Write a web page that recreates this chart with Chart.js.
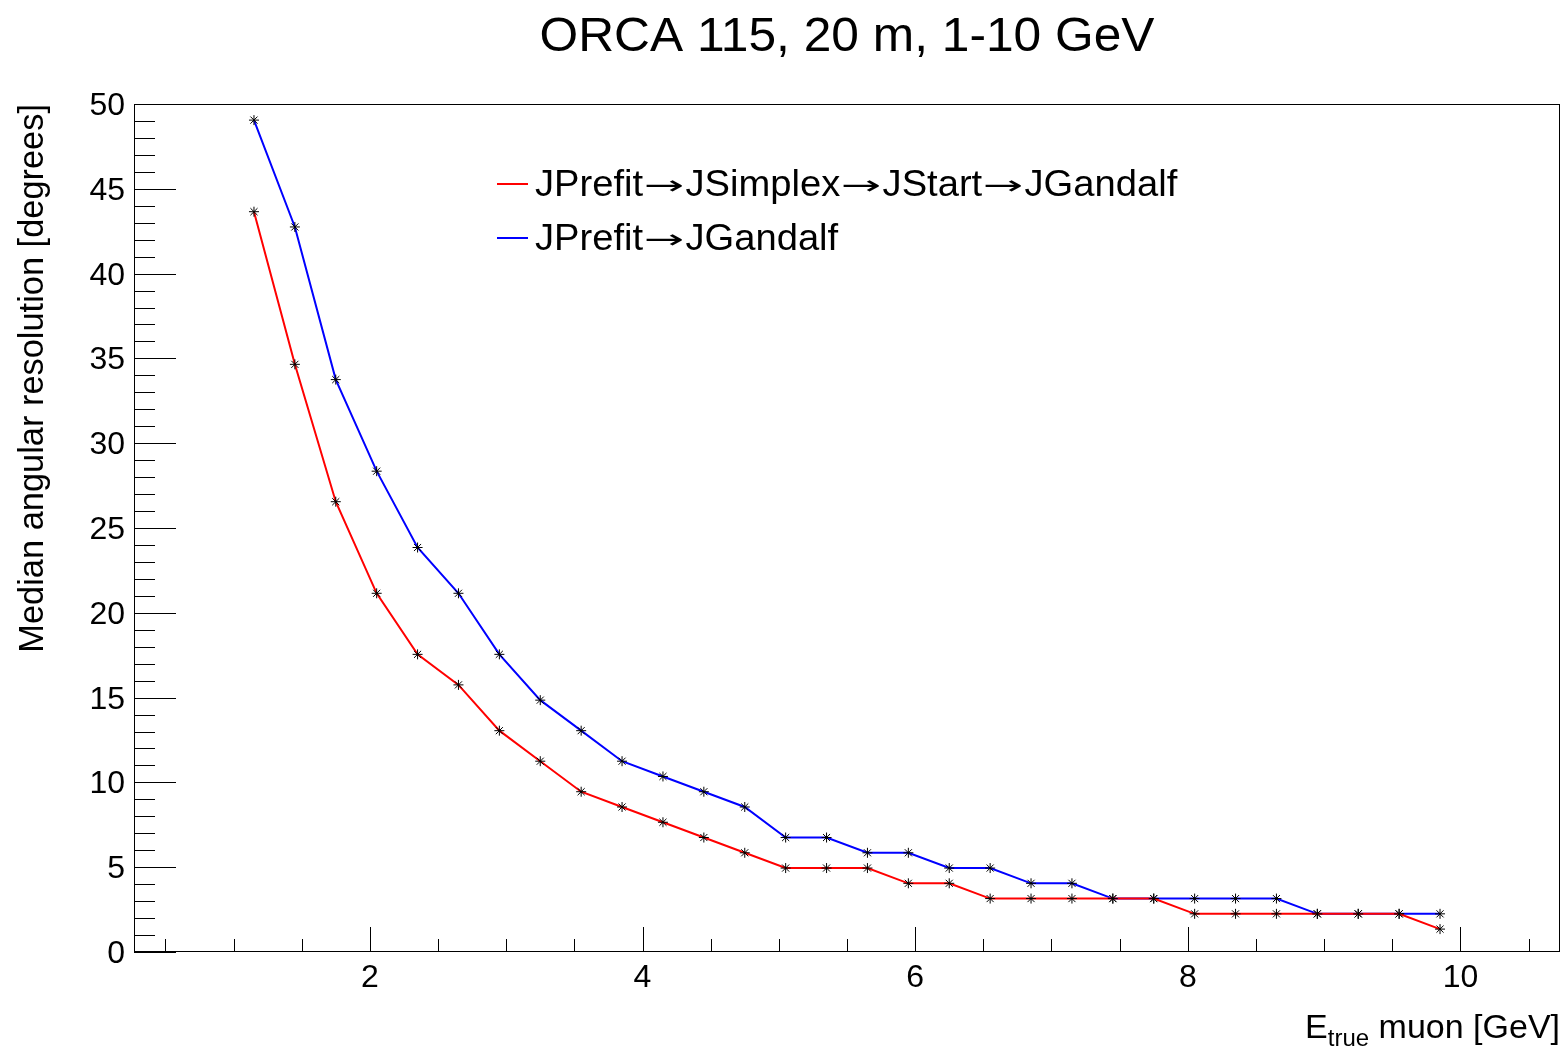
<!DOCTYPE html>
<html>
<head>
<meta charset="utf-8">
<script src="https://cdn.jsdelivr.net/npm/chart.js@4.4.0/dist/chart.umd.min.js"></script>
<style>
  body { margin:0; background:#fff; }
  canvas { display:block; }
</style>
</head>
<body>
<canvas id="c" width="1566" height="1048"></canvas>
<script>
// ===== data =====
const energies = [1.15,1.45,1.75,2.05,2.35,2.65,2.95,3.25,3.55,3.85,
                  4.15,4.45,4.75,5.05,5.35,5.65,5.95,6.25,6.55,6.85,
                  7.15,7.45,7.75,8.05,8.35,8.65,8.95,9.25,9.55,9.85];
const simplexRes = [43.65,34.65,26.55,21.15,17.55,15.75,13.05,11.25,9.45,8.55,
                    7.65,6.75,5.85,4.95,4.95,4.95,4.05,4.05,3.15,3.15,
                    3.15,3.15,3.15,2.25,2.25,2.25,2.25,2.25,2.25,1.35];
const gandalfRes = [49.05,42.75,33.75,28.35,23.85,21.15,17.55,14.85,13.05,11.25,
                    10.35,9.45,8.55,6.75,6.75,5.85,5.85,4.95,4.95,4.05,
                    4.05,3.15,3.15,3.15,3.15,3.15,2.25,2.25,2.25,2.25];
const xMajor = [2,4,6,8,10];
const yMajor = [0,5,10,15,20,25,30,35,40,45,50];
// legend names, split at the arrows
const seriesNames = [["JPrefit","JSimplex","JStart","JGandalf"],["JPrefit","JGandalf"]];
const titleText = "ORCA 115, 20 m, 1-10 GeV";
const yTitle = "Median angular resolution [degrees]";

const FONT = "'Liberation Sans', Arial, Helvetica, sans-serif";
const ARROW_FONT = "'DejaVu Sans', sans-serif";

function pts(vals){ return energies.map((e,i)=>({x:e, y:vals[i]})); }

// text drawn with a small horizontal stretch (ROOT text is a bit wider)
function wideText(ctx, txt, x, y, sx, align){
  const w = ctx.measureText(txt).width*sx;
  let x0 = x;
  if(align==="center") x0 = x - w/2;
  else if(align==="right") x0 = x - w;
  ctx.save();
  ctx.translate(x0, y);
  ctx.scale(sx, 1);
  ctx.textAlign = "left";
  ctx.fillText(txt, 0, 0);
  ctx.restore();
  return w;
}

// ===== ROOT style frame, ticks, labels, titles, legend =====
const rootStyle = {
  id:"rootStyle",
  afterDraw(chart){
    const ctx = chart.ctx, a = chart.chartArea;
    const xs = chart.scales.x, ys = chart.scales.y;
    ctx.save();
    ctx.strokeStyle = "#000";
    ctx.lineWidth = 1;
    ctx.strokeRect(a.left+0.5, a.top+0.5, a.right-a.left-1, a.bottom-a.top-1);

    // inward ticks
    ctx.beginPath();
    for(let v=0.5; v<=xs.max; v+=0.5){
      const px = Math.round(xs.getPixelForValue(v))+0.5;
      const len = (Math.abs(v/2-Math.round(v/2))<1e-6) ? 25 : 13;
      ctx.moveTo(px, a.bottom); ctx.lineTo(px, a.bottom-len);
    }
    for(let v=0; v<=ys.max; v+=1){
      const py = Math.round(ys.getPixelForValue(v))+0.5;
      const len = (v%5===0) ? 42 : 21;
      ctx.moveTo(a.left, py); ctx.lineTo(a.left+len, py);
    }
    ctx.stroke();

    ctx.fillStyle = "#000";
    ctx.textBaseline = "alphabetic";

    // tick labels
    ctx.font = "32px "+FONT;
    xs.ticks.forEach(t=>{
      wideText(ctx, String(t.value), xs.getPixelForValue(t.value), 987, 1.0, "center");
    });
    ys.ticks.forEach(t=>{
      wideText(ctx, String(t.value), 125, ys.getPixelForValue(t.value)+11, 1.0, "right");
    });

    // title
    ctx.font = "48px "+FONT;
    wideText(ctx, titleText, 847, 51, 1.035, "center");

    // x axis title: E_true muon [GeV], right aligned
    const bigF = "34px "+FONT, subF = "24px "+FONT;
    ctx.font = bigF; const wE = ctx.measureText("E").width;
    const wRest = ctx.measureText(" muon [GeV]").width;
    ctx.font = subF; const wSub = ctx.measureText("true").width;
    ctx.textAlign = "left";
    let x0 = a.right - (wE+wSub+wRest);
    ctx.font = bigF; ctx.fillText("E", x0, 1038);
    ctx.font = subF; ctx.fillText("true", x0+wE, 1046);
    ctx.font = bigF; ctx.fillText(" muon [GeV]", x0+wE+wSub, 1038);

    // y axis title, rotated, right aligned at top of frame
    ctx.save();
    ctx.translate(43, a.top);
    ctx.rotate(-Math.PI/2);
    ctx.textAlign = "right";
    ctx.font = "34.4px "+FONT;
    ctx.fillText(yTitle, 0, 0);
    ctx.restore();

    // legend
    chart.data.datasets.forEach((ds,i)=>{
      const base = 196 + i*54;
      ctx.strokeStyle = ds.borderColor;
      ctx.lineWidth = 2;
      ctx.beginPath(); ctx.moveTo(497, base-12); ctx.lineTo(528, base-12); ctx.stroke();
      let x = 535;
      seriesNames[i].forEach((part,k)=>{
        if(k>0){
          ctx.font = "26px "+ARROW_FONT;
          x += 1;
          x += wideText(ctx, "\u2192", x, base-2, 1.85, "left");
          x += 1;
        }
        ctx.font = "36px "+FONT;
        x += wideText(ctx, part, x, base, 1.06, "left");
      });
    });
    ctx.restore();
  }
};

const chart = new Chart(document.getElementById("c"), {
  type:"line",
  data:{
    datasets:[
      { label:seriesNames[0].join("\u2192"), data:pts(simplexRes), borderColor:"#ff0000", borderWidth:2,
        pointStyle:"star", pointRadius:5, pointBorderColor:"#000", pointBackgroundColor:"#000",
        pointBorderWidth:1, tension:0 },
      { label:seriesNames[1].join("\u2192"), data:pts(gandalfRes), borderColor:"#0000ff", borderWidth:2,
        pointStyle:"star", pointRadius:5, pointBorderColor:"#000", pointBackgroundColor:"#000",
        pointBorderWidth:1, tension:0 }
    ]
  },
  options:{
    responsive:false,
    animation:false,
    layout:{ padding:{ top:104, right:4, left:0, bottom:0 } },
    plugins:{ legend:{display:false}, title:{display:false}, tooltip:{enabled:false} },
    scales:{
      x:{
        type:"linear", min:0.27, max:10.73,
        afterBuildTicks(s){ s.ticks = xMajor.map(v=>({value:v})); },
        afterFit(s){ s.height = 96; s.paddingLeft = 0; s.paddingRight = 0; },
        grid:{ display:false, drawTicks:false },
        border:{ display:false },
        ticks:{ display:false }
      },
      y:{
        type:"linear", min:0, max:50,
        afterBuildTicks(s){ s.ticks = yMajor.map(v=>({value:v})); },
        afterFit(s){ s.width = 134; s.paddingTop = 0; s.paddingBottom = 0; },
        grid:{ display:false, drawTicks:false },
        border:{ display:false },
        ticks:{ display:false }
      }
    }
  },
  plugins:[rootStyle]
});
</script>
</body>
</html>
